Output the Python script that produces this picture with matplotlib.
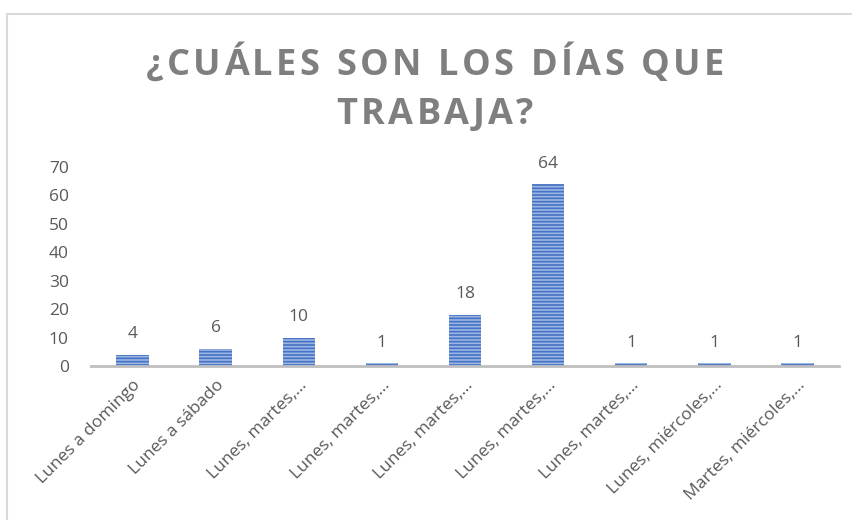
import matplotlib.pyplot as plt
import matplotlib.patches as mpatches

# Datos
categorias = ['Lunes a domingo', 'Lunes a sábado', 'Lunes, martes,...',
              'Lunes, martes,...', 'Lunes, martes,...', 'Lunes, martes,...',
              'Lunes, martes,...', 'Lunes, miércoles,...', 'Martes, miércoles,...']
valores = [4, 6, 10, 1, 18, 64, 1, 1, 1]
y_ticks = [0, 10, 20, 30, 40, 50, 60, 70]
titulo = ['¿CUÁLES SON LOS DÍAS QUE', 'TRABAJA?']

W, H = 853, 520
fuente = 'Open Sans'
gris = '#595959'
fig = plt.figure(figsize=(W / 100, H / 100), dpi=100)
plt.rcParams['hatch.linewidth'] = 1.2

# marco del grafico (se sale por la derecha y por abajo)
fig.patches.append(mpatches.Rectangle((7 / W, -0.2), 1.2, 1.2 - 14 / H, transform=fig.transFigure,
                                      fill=False, edgecolor='#d9d9d9', linewidth=1.5))

ax = fig.add_axes([91 / W, (H - 366) / H, (839 - 91) / W, (366 - 167) / H])
x = list(range(len(categorias)))
ax.bar(x, valores, width=0.39, color='#9db5e3', edgecolor='#4472c4',
       hatch='-----', linewidth=0)
for xi, v in zip(x, valores):
    ax.annotate(str(v), (xi, v), xytext=(0, 9), textcoords='offset points',
                ha='center', va='bottom', fontsize=12.5, color=gris, family=fuente)

ax.set_xlim(-0.5, len(categorias) - 0.5)
ax.set_ylim(0, 70)
ax.set_yticks(y_ticks)
ax.set_xticks(x)
ax.set_xticklabels(categorias, rotation=45, ha='right', rotation_mode='anchor',
                   fontsize=12.5, color=gris, family=fuente)
for lab in ax.get_yticklabels():
    lab.set_family(fuente)
ax.tick_params(axis='y', length=0, labelsize=12.5, labelcolor=gris, pad=16)
ax.tick_params(axis='x', length=0, pad=8)
for s in ['top', 'right', 'left']:
    ax.spines[s].set_visible(False)
ax.spines['bottom'].set_color('#bfbfbf')
ax.spines['bottom'].set_linewidth(2)

# titulo en dos lineas, con espaciado entre letras (px)
renderer = fig.canvas.get_renderer()
estilo = dict(fontsize=26, fontweight='bold', color='#7f7f7f', family=fuente)
espacio = 3.4
for linea, yy in zip(titulo, [75, 124]):
    anchos = []
    for c in linea:
        t = fig.text(0, 0, c, **estilo)
        anchos.append(t.get_window_extent(renderer).width if c != ' ' else 10)
        t.remove()
    total = sum(anchos) + espacio * (len(linea) - 1)
    xx = 435 - total / 2
    for c, w in zip(linea, anchos):
        fig.text(xx / W, 1 - yy / H, c, ha='left', va='baseline', **estilo)
        xx += w + espacio

fig.savefig('out.png', dpi=100)
